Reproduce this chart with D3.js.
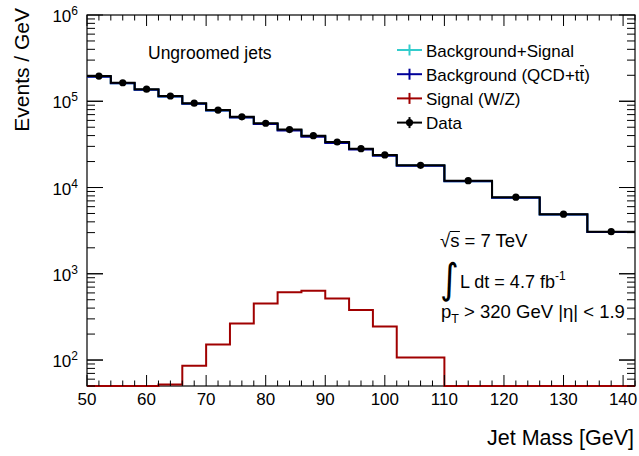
<!DOCTYPE html>
<html>
<head>
<meta charset="utf-8">
<script src="https://cdn.jsdelivr.net/npm/d3@7"></script>
<style>
  body { margin: 0; background: #fff; }
  text { font-family: "Liberation Sans", Arial, sans-serif; fill: #000; }
</style>
</head>
<body>
<svg id="chart" width="639" height="456"></svg>
<script>
// bin edges in GeV (4 GeV bins up to 102, then 8 GeV)
const binEdges = [50, 54, 58, 62, 66, 70, 74, 78, 82, 86, 90, 94, 98, 102, 110, 118, 126, 134, 142];
const binCenters = [52, 56, 60, 64, 68, 72, 76, 80, 84, 88, 92, 96, 100, 106, 114, 122, 130, 138];

// events / GeV
const dataValues = [196000, 164000, 138000, 115000, 95000, 79000, 66000, 55600, 46900, 39900, 33700, 28200, 23900, 18100, 12000, 7730, 4910, 3080];
const bkgValues = [193000, 161500, 136000, 113500, 93700, 77900, 64900, 54400, 45800, 38800, 32800, 27500, 23400, 17900, 11850, 7630, 4850, 3040];
const bkgSigValues = [193020, 161540, 136050, 113550, 93790, 78050, 65170, 54850, 46410, 39430, 33320, 27880, 23650, 18000, 11860, 7630, 4850, 3040];
const sigValues = [20, 38, 46, 52, 86, 151, 265, 452, 612, 634, 516, 379, 245, 107, 30, 15, 8, 4];

const yTicks = [1e2, 1e3, 1e4, 1e5, 1e6];
const xTicks = [50, 60, 70, 80, 90, 100, 110, 120, 130, 140];

const legendItems = [
    { label: "Background+Signal", color: "#33cccc", type: "line" },
    { label: "Background (QCD+tt)", color: "#000099", type: "line" },
    { label: "Signal (W/Z)", color: "#a00000", type: "line" },
    { label: "Data", color: "#000000", type: "dot" }
];

const frame = { left: 87, right: 635, top: 15, bottom: 386 };

const svg = d3.select("#chart");

const x = d3.scaleLinear().domain([50, 142]).range([frame.left, frame.right]);
const y = d3.scaleLog().domain([50, 1e6]).range([frame.bottom, frame.top]).clamp(true);

// frame
svg.append("rect")
    .attr("x", frame.left).attr("y", frame.top)
    .attr("width", frame.right - frame.left)
    .attr("height", frame.bottom - frame.top)
    .attr("fill", "none").attr("stroke", "#000").attr("stroke-width", 1.2);

// clip for histograms (a bit of slack at the bottom so the floor line shows)
svg.append("clipPath").attr("id", "plot-clip")
    .append("rect")
    .attr("x", frame.left).attr("y", frame.top)
    .attr("width", frame.right - frame.left)
    .attr("height", frame.bottom - frame.top + 1.5);

function stepPoints(values) {
    const pts = values.map((v, i) => [binEdges[i], v]);
    pts.push([binEdges[binEdges.length - 1], values[values.length - 1]]);
    return pts;
}

const stepLine = d3.line()
    .x(d => x(d[0]))
    .y(d => y(d[1]))
    .curve(d3.curveStepAfter);

const plot = svg.append("g").attr("clip-path", "url(#plot-clip)");

plot.append("path")
    .attr("d", stepLine(stepPoints(bkgSigValues)))
    .attr("fill", "none").attr("stroke", "#33cccc").attr("stroke-width", 2);

plot.append("path")
    .attr("d", stepLine(stepPoints(bkgValues)))
    .attr("fill", "none").attr("stroke", "#000099").attr("stroke-width", 2);

plot.append("path")
    .attr("d", stepLine(stepPoints(sigValues)))
    .attr("fill", "none").attr("stroke", "#a00000").attr("stroke-width", 2);

plot.append("path")
    .attr("d", stepLine(stepPoints(dataValues)))
    .attr("fill", "none").attr("stroke", "#000").attr("stroke-width", 2);

plot.selectAll(".dot")
    .data(dataValues)
    .enter()
    .append("circle")
    .attr("class", "dot")
    .attr("cx", (d, i) => x(binCenters[i]))
    .attr("cy", d => y(d))
    .attr("r", 3.6)
    .attr("fill", "#000");

// x ticks (bottom + top, inside)
const xMinor = d3.range(50, 143, 2);
const ticks = svg.append("g").attr("stroke", "#000").attr("stroke-width", 1);
xMinor.forEach(v => {
    const major = v % 10 === 0;
    const len = major ? 11 : 5.5;
    ticks.append("line")
        .attr("x1", x(v)).attr("x2", x(v))
        .attr("y1", frame.bottom).attr("y2", frame.bottom - len);
    ticks.append("line")
        .attr("x1", x(v)).attr("x2", x(v))
        .attr("y1", frame.top).attr("y2", frame.top + len);
});

// y ticks (left + right, inside)
const yMinor = [];
[10, 100, 1000, 10000, 100000].forEach(dec => {
    for (let k = 1; k <= 10; k++) {
        const v = dec * k;
        if (v >= 50 && v <= 1e6) yMinor.push(v);
    }
});
yMinor.forEach(v => {
    const major = yTicks.includes(v);
    const len = major ? 16 : 8;
    ticks.append("line")
        .attr("x1", frame.left).attr("x2", frame.left + len)
        .attr("y1", y(v)).attr("y2", y(v));
    ticks.append("line")
        .attr("x1", frame.right).attr("x2", frame.right - len)
        .attr("y1", y(v)).attr("y2", y(v));
});

// x tick labels
svg.selectAll(".xlab")
    .data(xTicks)
    .enter()
    .append("text")
    .attr("class", "xlab")
    .attr("x", d => x(d))
    .attr("y", frame.bottom + 19)
    .attr("text-anchor", "middle")
    .style("font-size", "17px")
    .text(d => d);

// y tick labels 10^n
yTicks.forEach(v => {
    const t = svg.append("text")
        .attr("x", frame.left - 9)
        .attr("y", y(v) + 7)
        .attr("text-anchor", "end")
        .style("font-size", "17px");
    t.append("tspan").text("10");
    t.append("tspan").attr("dy", -7).style("font-size", "12px").text(Math.round(Math.log10(v)));
});

// axis titles
svg.append("text")
    .attr("transform", "translate(29, 8) rotate(-90)")
    .attr("text-anchor", "end")
    .style("font-size", "21px")
    .text("Events / GeV");

svg.append("text")
    .attr("x", 634)
    .attr("y", 445)
    .attr("text-anchor", "end")
    .style("font-size", "21.5px")
    .text("Jet Mass [GeV]");

svg.append("text")
    .attr("x", 148)
    .attr("y", 59)
    .style("font-size", "17.5px")
    .text("Ungroomed jets");

// legend
const legend = svg.append("g").attr("transform", "translate(397, 50)");
legendItems.forEach((d, i) => {
    const g = legend.append("g").attr("transform", `translate(0, ${i * 24.2})`);
    g.append("line").attr("x1", 0).attr("x2", 25).attr("y1", 0).attr("y2", 0)
        .attr("stroke", d.color).attr("stroke-width", 2);
    g.append("line").attr("x1", 12.5).attr("x2", 12.5).attr("y1", -5.5).attr("y2", 5.5)
        .attr("stroke", d.color).attr("stroke-width", 2);
    if (d.type === "dot") {
        g.append("circle").attr("cx", 12.5).attr("cy", 0).attr("r", 3.6).attr("fill", d.color);
    }
    const t = g.append("text").attr("x", 29).attr("y", 6.5).style("font-size", "17px");
    if (d.label === "Background (QCD+tt)") {
        t.append("tspan").text("Background (QCD+t");
        t.append("tspan").attr("class", "tbar").text("t");
        t.append("tspan").text(")");
    } else {
        t.text(d.label);
    }
});
// overbar on anti-top
legend.selectAll(".tbar").each(function () {
    const b = this.getBBox();
    const g = d3.select(this.parentNode.parentNode);
    g.append("line")
        .attr("x1", b.x + 0.5).attr("x2", b.x + b.width - 0.5)
        .attr("y1", -8.5).attr("y2", -8.5)
        .attr("stroke", "#000").attr("stroke-width", 1.2);
});

// annotation
const ann = svg.append("g");
const s1 = ann.append("text").attr("x", 440).attr("y", 247).style("font-size", "18.5px");
s1.append("tspan").text("\u221A");
s1.append("tspan").attr("class", "sqrt-arg").text("s");
s1.append("tspan").text(" = 7 TeV");
ann.selectAll(".sqrt-arg").each(function () {
    const b = this.getBBox();
    ann.append("line")
        .attr("x1", b.x - 0.5).attr("x2", b.x + b.width + 0.5)
        .attr("y1", b.y + 1.5).attr("y2", b.y + 1.5)
        .attr("stroke", "#000").attr("stroke-width", 1);
});

ann.append("text")
    .attr("transform", "translate(440, 293) scale(1, 1.15)")
    .style("font-size", "36px")
    .style("font-family", "DejaVu Sans")
    .text("\u222B");
const s3 = ann.append("text").attr("x", 460).attr("y", 288).style("font-size", "18px");
s3.append("tspan").text("L dt = 4.7 fb");
s3.append("tspan").attr("dy", -8).style("font-size", "12px").text("-1");

const s4 = ann.append("text").attr("x", 441).attr("y", 318).style("font-size", "18.5px");
s4.append("tspan").text("p");
s4.append("tspan").attr("dy", 5).style("font-size", "12.5px").text("T");
s4.append("tspan").attr("dy", -5).text(" > 320 GeV |\u03B7| < 1.9");
</script>
</body>
</html>
